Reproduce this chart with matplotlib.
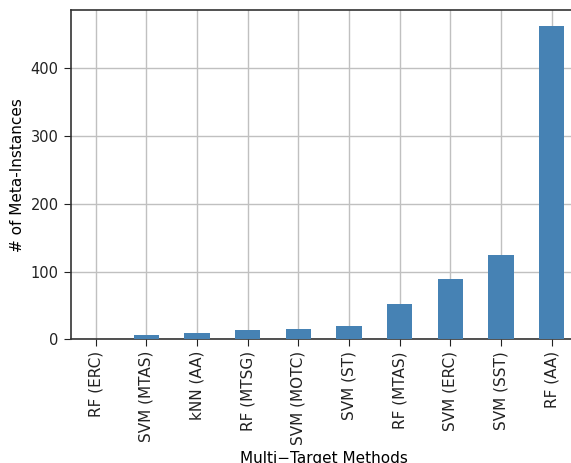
import matplotlib
matplotlib.use("Agg")
import matplotlib.pyplot as plt
import pandas as pd

# meta-instances won by each multi-target method
methods = ["RF (ERC)", "SVM (MTAS)", "kNN (AA)", "RF (MTSG)", "SVM (MOTC)",
           "SVM (ST)", "RF (MTAS)", "SVM (ERC)", "SVM (SST)", "RF (AA)"]
counts = [1, 6, 10, 13, 15, 20, 52, 89, 125, 463]

wins = pd.Series(counts, index=methods)

plt.rc("font", size=10)
plt.rc("axes", labelsize=11)
fig = plt.figure(figsize=(5.71, 4.63), dpi=100)
ax = fig.add_axes([70.5 / 571, 123.7 / 463, 506.5 / 571, 329.3 / 463])

wins.plot(kind="bar", ax=ax, color="#4682b4", zorder=3)

ax.set_axisbelow(True)
ax.grid(True, color="#c0c0c0", lw=1.0)
for side in ("left", "top", "bottom"):
    ax.spines[side].set_color("#333333")
    ax.spines[side].set_linewidth(1.2)
ax.spines["right"].set_visible(False)
ax.tick_params(colors="#222222", length=5, labelsize=11)
ax.tick_params(axis="y", labelsize=10.5)
ax.set_yticks([0, 100, 200, 300, 400])

ax.set_xlabel("Multi\u2212Target Methods")
ax.set_ylabel("# of Meta-Instances")

fig.savefig("out.png", dpi=100)
